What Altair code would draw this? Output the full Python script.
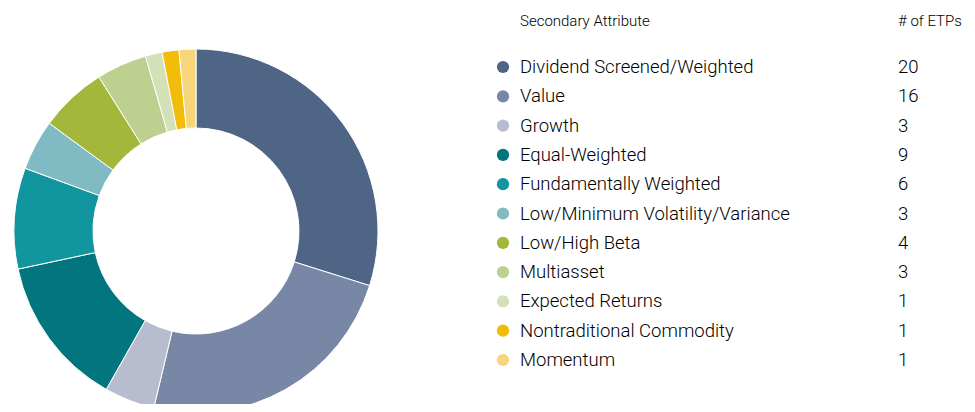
import altair as alt
import pandas as pd

categories = ["Dividend Screened/Weighted", "Value", "Growth", "Equal-Weighted",
              "Fundamentally Weighted", "Low/Minimum Volatility/Variance", "Low/High Beta",
              "Multiasset", "Expected Returns", "Nontraditional Commodity", "Momentum"]
counts = [20, 16, 3, 9, 6, 3, 4, 3, 1, 1, 1]
colors = ["#4f6586", "#7887a5", "#b7bdcf", "#03757f", "#11959f", "#80bac2",
          "#a3b83a", "#bed08f", "#d4e0b5", "#f1bd0a", "#f6d57b"]

df = pd.DataFrame({"cat": categories, "n": counts, "idx": list(range(len(categories)))})

FONT = "Roboto, sans-serif"
color = alt.Color("cat:N", scale=alt.Scale(domain=categories, range=colors), legend=None)

arcs = alt.Chart(df).mark_arc(innerRadius=103, outerRadius=182, stroke="white", strokeWidth=1).encode(
    theta=alt.Theta("n:Q", stack=True),
    order=alt.Order("idx:Q"),
    color=color,
    x=alt.value(188), y=alt.value(223),
)

yenc = alt.Y("idx:Q", scale=alt.Scale(domain=[0, 10], range=[59, 352]), axis=None)

dots = alt.Chart(df).mark_circle(size=150, opacity=1).encode(
    x=alt.value(495), y=yenc, color=color)

labels = alt.Chart(df).mark_text(align="left", baseline="middle", fontSize=18.5, fontWeight=300,
                                 font=FONT, color="#000000").encode(
    x=alt.value(512), y=yenc, text="cat:N")

nums = alt.Chart(df).mark_text(align="left", baseline="middle", fontSize=18.5, fontWeight=300,
                               font=FONT, color="#000000").encode(
    x=alt.value(890), y=yenc, text="n:Q")

hdr = pd.DataFrame({"t": ["Secondary Attribute", "# of ETPs"], "px": [512, 890]})
header = alt.Chart(hdr).mark_text(align="left", baseline="middle", fontSize=15, fontWeight=300,
                                  font=FONT, color="#000000").encode(
    x=alt.X("px:Q", scale=alt.Scale(domain=[0, 959], range=[0, 959]), axis=None),
    y=alt.value(13), text="t:N")

chart = alt.layer(arcs, dots, labels, nums, header).resolve_scale(x="independent").properties(
    width=959, height=396, autosize=alt.AutoSizeParams(type="none"), padding=0
).configure_view(stroke=None)

chart.save("out.html", embed_options={"renderer": "svg", "actions": False})
